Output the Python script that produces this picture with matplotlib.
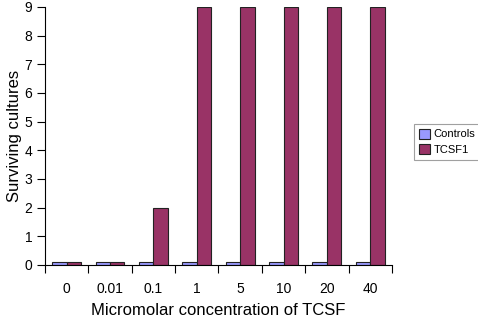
import numpy as np
import matplotlib.pyplot as plt

plt.rcParams['font.family'] = ['Liberation Sans', 'DejaVu Sans']

concentrations = ['0', '0.01', '0.1', '1', '5', '10', '20', '40']
controls = [0.1, 0.1, 0.1, 0.1, 0.1, 0.1, 0.1, 0.1]
tcsf1 = [0.1, 0.1, 2, 9, 9, 9, 9, 9]

fig = plt.figure(figsize=(4.78, 3.18), dpi=100)
ax = fig.add_axes([0.094, 0.1667, 0.726, 0.8113])

x = np.arange(len(concentrations))
w = 1 / 3
ax.bar(x - w / 2, controls, w, color='#9999ff', edgecolor='#222222', linewidth=0.8, label='Controls')
ax.bar(x + w / 2, tcsf1, w, color='#993366', edgecolor='#222222', linewidth=0.8, label='TCSF1')

ax.set_xlim(-0.5, len(concentrations) - 0.5)
ax.set_ylim(0, 9)
ax.set_yticks(range(10))
ax.set_xticks(np.arange(len(concentrations) + 1) - 0.5)
ax.set_xticklabels([])
ax.set_xticks(x, minor=True)
ax.set_xticklabels(concentrations, minor=True)
ax.tick_params(axis='x', which='minor', length=0, pad=12, labelsize=10)
ax.tick_params(axis='x', which='major', length=6, width=0.8)
ax.tick_params(axis='y', length=6, width=0.8, labelsize=10, pad=3)

for s in ['top', 'right']:
    ax.spines[s].set_visible(False)

ax.set_xlabel('Micromolar concentration of TCSF', fontsize=12, labelpad=5)
ax.set_ylabel('Surviving cultures', fontsize=12, labelpad=2)

leg = ax.legend(loc='center left', bbox_to_anchor=(1.063, 0.477), fontsize=8, frameon=True,
                fancybox=False, edgecolor='#888888', handlelength=1.0, handleheight=1.0,
                handletextpad=0.3, borderpad=0.45, labelspacing=0.45, borderaxespad=0)
leg.get_frame().set_linewidth(0.8)

fig.savefig('out.png', dpi=100)
